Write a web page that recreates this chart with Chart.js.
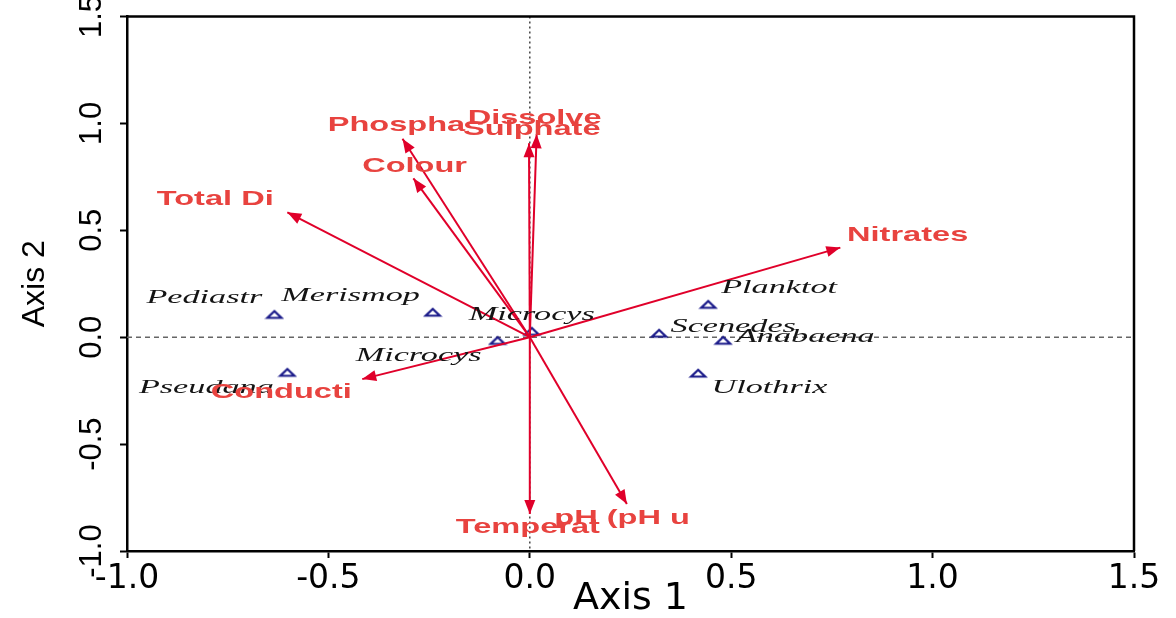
<!DOCTYPE html>
<html>
<head>
<meta charset="utf-8">
<script src="https://cdn.jsdelivr.net/npm/chart.js@4.4.1/dist/chart.umd.min.js"></script>
<style>
  html, body { margin: 0; padding: 0; background: #fff; }
</style>
</head>
<body>
<canvas id="biplot" width="1176" height="618"></canvas>
<script>
// both axes run -1.0 .. 1.5
var axisTicks = [-1.0, -0.5, 0.0, 0.5, 1.0, 1.5];

// environmental variables: arrow tips and label anchors (axis units)
var envNames = ["Total Di", "Phospha", "Colour", "Dissolve", "Sulphate", "Nitrates", "Conducti", "Temperat", "pH (pH u"];
var envX = [-0.602, -0.316, -0.289, 0.017, -0.002, 0.771, -0.416, 0.000, 0.241];
var envY = [0.584, 0.928, 0.743, 0.949, 0.907, 0.419, -0.196, -0.827, -0.780];
var envLabelX = [-0.781, -0.331, -0.286, 0.012, 0.005, 0.938, -0.617, -0.005, 0.229];
var envLabelY = [0.645, 0.991, 0.799, 1.023, 0.972, 0.477, -0.257, -0.888, -0.846];

// species scores
var sppNames = ["Pediastr", "Merismop", "Microcys", "Microcys", "Planktot", "Scenedes", "Anabaena", "Ulothrix", "Pseudana"];
var sppX = [-0.634, -0.241, 0.005, -0.080, 0.443, 0.321, 0.480, 0.418, -0.602];
var sppY = [0.107, 0.117, 0.028, -0.015, 0.154, 0.019, -0.014, -0.168, -0.164];
var sppLabelX = [-0.808, -0.445, 0.005, -0.276, 0.619, 0.505, 0.684, 0.595, -0.803];
var sppLabelY = [0.182, 0.192, 0.103, -0.089, 0.229, 0.047, 0.000, -0.238, -0.238];

var arrowColor = "#e0002a";
var envTextColor = "#e8433f";
var sppColor = "#1b1b8a";

// flat open triangle used as the species marker
function makeTriangle() {
  var c = document.createElement("canvas");
  c.width = 20;
  c.height = 12;
  var g = c.getContext("2d");
  g.strokeStyle = sppColor;
  g.lineWidth = 2.2;
  g.beginPath();
  g.moveTo(3, 9.5);
  g.lineTo(17, 9.5);
  g.lineTo(10, 2.8);
  g.closePath();
  g.stroke();
  return c;
}

var datasets = [];
envNames.forEach(function (name, i) {
  datasets.push({
    label: name,
    data: [{ x: 0, y: 0 }, { x: envX[i], y: envY[i] }],
    showLine: true,
    borderColor: arrowColor,
    borderWidth: 2,
    pointRadius: 0,
    fill: false,
  });
});
datasets.push({
  label: "species",
  data: sppX.map(function (x, i) { return { x: x, y: sppY[i] }; }),
  pointStyle: makeTriangle(),
  pointRadius: 8,
  showLine: false,
});

var zeroLines = {
  id: "zeroLines",
  beforeDatasetsDraw: function (chart) {
    var ctx = chart.ctx, a = chart.chartArea;
    var x0 = chart.scales.x.getPixelForValue(0);
    var y0 = chart.scales.y.getPixelForValue(0);
    ctx.save();
    ctx.lineWidth = 1.5;
    ctx.strokeStyle = "#444";
    ctx.setLineDash([2, 3]);
    ctx.beginPath();
    ctx.moveTo(x0, a.top);
    ctx.lineTo(x0, a.bottom);
    ctx.stroke();
    ctx.strokeStyle = "#666";
    ctx.setLineDash([5, 4]);
    ctx.beginPath();
    ctx.moveTo(a.left, y0);
    ctx.lineTo(a.right, y0);
    ctx.stroke();
    ctx.restore();
  },
};

function stretchedText(ctx, text, px, py, sx) {
  ctx.save();
  ctx.translate(px, py);
  ctx.scale(sx, 1);
  ctx.fillText(text, 0, 0);
  ctx.restore();
}

var marks = {
  id: "marks",
  afterDatasetsDraw: function (chart) {
    var ctx = chart.ctx, a = chart.chartArea;
    var sx = chart.scales.x, sy = chart.scales.y;
    var ox = sx.getPixelForValue(0), oy = sy.getPixelForValue(0);
    ctx.save();

    // arrow heads
    ctx.fillStyle = arrowColor;
    envNames.forEach(function (name, i) {
      var tx = sx.getPixelForValue(envX[i]), ty = sy.getPixelForValue(envY[i]);
      var ang = Math.atan2(ty - oy, tx - ox);
      ctx.save();
      ctx.translate(tx, ty);
      ctx.rotate(ang);
      ctx.beginPath();
      ctx.moveTo(0, 0);
      ctx.lineTo(-14, -5.5);
      ctx.lineTo(-14, 5.5);
      ctx.closePath();
      ctx.fill();
      ctx.restore();
    });

    // species labels
    ctx.textAlign = "center";
    ctx.textBaseline = "middle";
    ctx.font = "italic 18px 'Liberation Serif'";
    ctx.fillStyle = "#141414";
    sppNames.forEach(function (name, i) {
      stretchedText(ctx, name, sx.getPixelForValue(sppLabelX[i]), sy.getPixelForValue(sppLabelY[i]), 1.9);
    });

    // variable labels
    ctx.font = "bold 21px 'Liberation Sans'";
    ctx.fillStyle = envTextColor;
    envNames.forEach(function (name, i) {
      stretchedText(ctx, name, sx.getPixelForValue(envLabelX[i]), sy.getPixelForValue(envLabelY[i]), 1.55);
    });

    // box top and right
    ctx.strokeStyle = "#000";
    ctx.lineWidth = 2.5;
    ctx.beginPath();
    ctx.moveTo(a.left, a.top);
    ctx.lineTo(a.right, a.top);
    ctx.lineTo(a.right, a.bottom);
    ctx.stroke();
    ctx.restore();
  },
};

function setTicks(scale) {
  scale.ticks = axisTicks.map(function (v) { return { value: v }; });
}

new Chart(document.getElementById("biplot"), {
  type: "scatter",
  data: { datasets: datasets },
  options: {
    responsive: false,
    animation: false,
    devicePixelRatio: 1,
    layout: { padding: { top: 8, right: 42, left: 0, bottom: 0 } },
    plugins: { legend: { display: false }, tooltip: { enabled: false } },
    scales: {
      x: {
        type: "linear",
        min: -1,
        max: 1.5,
        afterBuildTicks: setTicks,
        afterFit: function (s) { s.height = 67; },
        ticks: {
          autoSkip: false,
          maxRotation: 0,
          padding: 5,
          color: "#000",
          font: { family: "DejaVu Sans", size: 33, lineHeight: 1 },
          callback: function (v) { return v.toFixed(1); },
        },
        grid: { drawOnChartArea: false, tickLength: 7, tickWidth: 2, tickColor: "#000" },
        border: { display: true, width: 2.5, color: "#000" },
        title: {
          display: true,
          text: "Axis 1",
          color: "#000",
          font: { family: "DejaVu Sans", size: 38, lineHeight: 1 },
          padding: { top: 0, bottom: 0 },
        },
      },
      y: {
        type: "linear",
        min: -1,
        max: 1.5,
        afterBuildTicks: setTicks,
        afterFit: function (s) { s.width = 127; },
        ticks: {
          autoSkip: false,
          minRotation: 90,
          maxRotation: 90,
          crossAlign: "center",
          padding: 1,
          color: "#000",
          font: { family: "Liberation Sans", size: 31, lineHeight: 1 },
          callback: function (v) { return v.toFixed(1); },
        },
        grid: { drawOnChartArea: false, tickLength: 7, tickWidth: 2, tickColor: "#000" },
        border: { display: true, width: 2.5, color: "#000" },
        title: {
          display: true,
          text: "Axis 2",
          color: "#000",
          font: { family: "Liberation Sans", size: 32, lineHeight: 1 },
          padding: { top: 19, bottom: 0 },
        },
      },
    },
  },
  plugins: [zeroLines, marks],
});
</script>
</body>
</html>
